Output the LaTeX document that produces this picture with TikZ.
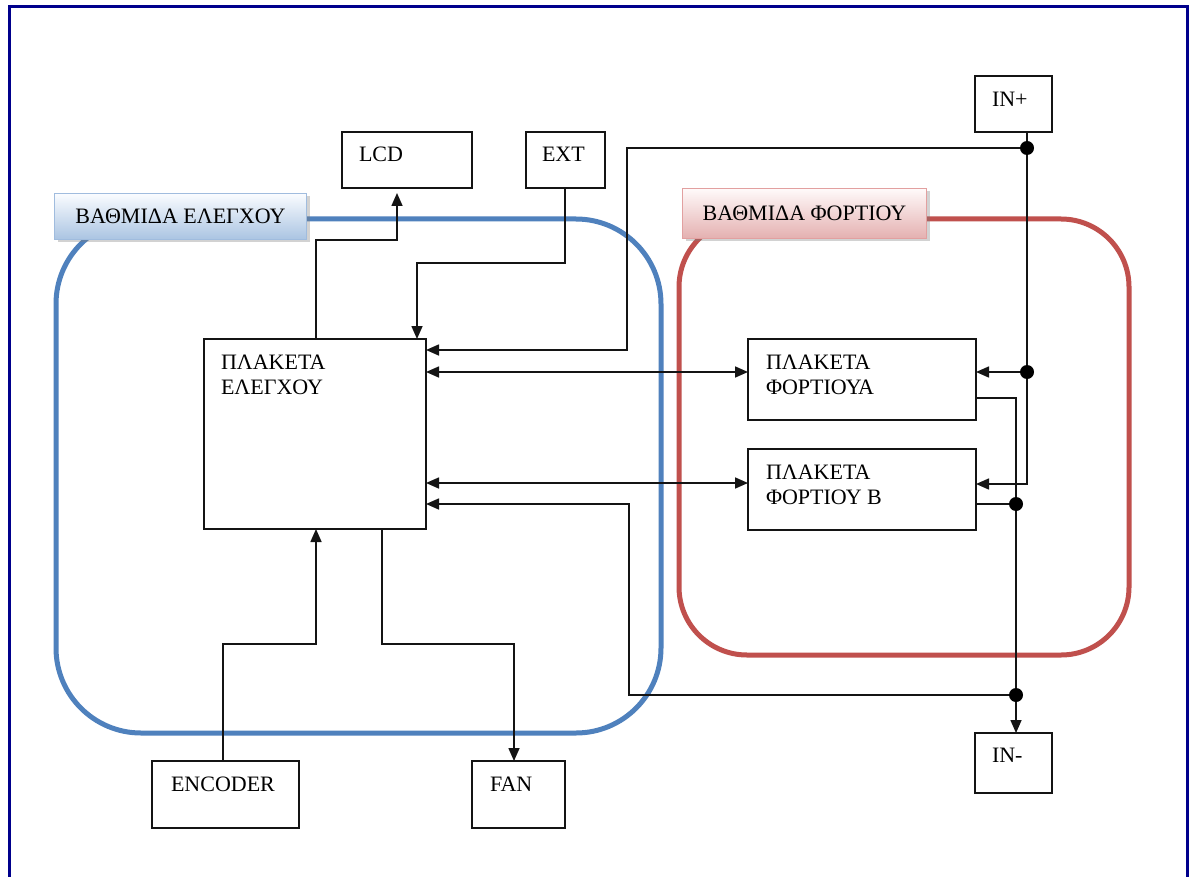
\documentclass[tikz,border=0pt]{standalone}
\usepackage{fontspec}
\setmainfont{Liberation Serif}
\usetikzlibrary{arrows.meta,calc,shadows}
\definecolor{framec}{RGB}{0,0,140}
\definecolor{blueline}{RGB}{79,129,189}
\definecolor{redline}{RGB}{192,80,77}
\definecolor{bluetop}{RGB}{250,252,255}
\definecolor{bluebot}{RGB}{170,196,226}
\definecolor{blueedge}{RGB}{160,188,222}
\definecolor{redtop}{RGB}{255,250,250}
\definecolor{redbot}{RGB}{228,176,176}
\definecolor{rededge}{RGB}{226,160,160}
\definecolor{ink}{RGB}{20,20,20}
\begin{document}
\begin{tikzpicture}[x=1pt,y=-1pt,
  box/.style={draw=ink, line width=1.6pt, inner sep=0pt, outer sep=0pt, anchor=north west},
  txt/.style={font=\fontsize{22}{25}\selectfont, inner sep=0pt, outer sep=0pt, align=left},
  wire/.style={draw=ink, line width=1.6pt},
  arr/.style={wire, -{Triangle[length=13pt,width=11pt]}},
  darr/.style={wire, {Triangle[length=13pt,width=11pt]}-{Triangle[length=13pt,width=11pt]}},
  jdot/.style={circle, fill=black, inner sep=0pt, minimum size=14pt},
  group/.style={line width=5pt},
  bluelabel/.style={draw=blueedge, line width=1pt, top color=bluetop, bottom color=bluebot,
    inner sep=0pt, anchor=north west, font=\fontsize{22}{25}\selectfont,
    drop shadow={shadow xshift=3pt, shadow yshift=-3pt, opacity=0.35}},
  redlabel/.style={draw=rededge, line width=1pt, top color=redtop, bottom color=redbot,
    inner sep=0pt, anchor=north west, font=\fontsize{22}{25}\selectfont,
    drop shadow={shadow xshift=3pt, shadow yshift=-3pt, opacity=0.35}}
]
\clip (0,0) rectangle (1190,877);
\useasboundingbox (0,0) rectangle (1190,877);
\fill[white] (0,0) rectangle (1190,877);
% outer frame
\draw[framec, line width=3pt] (9,6.5) rectangle (1187,900);

% group outlines
\draw[blueline, group, rounded corners=85pt] (56,219) rectangle (661,733);
\draw[redline, group, rounded corners=68pt] (679,219) rectangle (1129,655);

% group labels
\node[bluelabel, minimum width=252pt, minimum height=46pt] (lbA) at (54,193) {ΒΑΘΜΙΔΑ ΕΛΕΓΧΟΥ};
\node[redlabel, minimum width=244pt, minimum height=50pt] (lbB) at (682,188) {ΒΑΘΜΙΔΑ ΦΟΡΤΙΟΥ};

% boxes
\node[box, minimum width=130pt, minimum height=56pt] (lcd) at (342,132) {};
\node[box, minimum width=79pt, minimum height=56pt] (ext) at (526,132) {};
\node[box, minimum width=77pt, minimum height=56pt] (inp) at (975,76) {};
\node[box, minimum width=222pt, minimum height=190pt] (pe) at (204,339) {};
\node[box, minimum width=228pt, minimum height=81pt] (fa) at (748,339) {};
\node[box, minimum width=228pt, minimum height=81pt] (fb) at (748,449) {};
\node[box, minimum width=147pt, minimum height=67pt] (enc) at (152,761) {};
\node[box, minimum width=93pt, minimum height=67pt] (fan) at (472,761) {};
\node[box, minimum width=77pt, minimum height=60pt] (inm) at (975,733) {};

% texts
\node[txt, anchor=base west] (lcdT) at (359,162) {LCD};
\node[txt, anchor=base west] (extT) at (542,162) {EXT};
\node[txt, anchor=base west] (inpT) at (992,107) {IN+};
\node[txt, anchor=base west] (encT) at (171,791) {ENCODER};
\node[txt, anchor=base west] (fanT) at (490,791) {FAN};
\node[txt, anchor=base west] (inmT) at (992,762) {IN-};
\node[txt, anchor=base west] (peT1) at (221,369) {ΠΛΑΚΕΤΑ};
\node[txt, anchor=base west] (peT2) at (221,394) {ΕΛΕΓΧΟΥ};
\node[txt, anchor=base west] (faT1) at (766,369) {ΠΛΑΚΕΤΑ};
\node[txt, anchor=base west] (faT2) at (766,394) {ΦΟΡΤΙΟΥΑ};
\node[txt, anchor=base west] (fbT1) at (766,479) {ΠΛΑΚΕΤΑ};
\node[txt, anchor=base west] (fbT2) at (766,504) {ΦΟΡΤΙΟΥ Β};

% junctions
\coordinate (jp1) at (1027,148);
\coordinate (jp2) at (1027,372);
\coordinate (jn1) at (1016,504);
\coordinate (jn2) at (1016,695);

% LCD
\draw[arr, shorten >=5pt] ([xshift=112pt]pe.north west) -- ++(0,-99) -| ([xshift=55pt]lcd.south west);
% EXT
\draw[arr] ([xshift=39pt]ext.south west) -- ++(0,75) -| ([xshift=213pt]pe.north west);
% IN+
\draw[arr] ([xshift=52pt]inp.south west) -- (jp1) -- (jp2) |- ([yshift=-35pt]fb.north east);
\draw[arr] (jp1) -- (627,148) |- ([yshift=-11pt]pe.north east);
\draw[arr] (jp2) -- (fa.east |- jp2);
% bidirectional
\draw[darr] ([yshift=-33pt]pe.north east) -- ([yshift=-33pt]fa.north west);
\draw[darr] ([yshift=-144pt]pe.north east) -- ([yshift=-34pt]fb.north west);
% IN-
\draw[wire] ([yshift=-59pt]fa.north east) -| (jn1);
\draw[wire] ([yshift=-55pt]fb.north east) -- (jn1);
\draw[arr] (jn1) -- (jn2) -- (jn2 |- inm.north);
\draw[arr] (jn2) -- (629,695) |- ([yshift=-165pt]pe.north east);
% ENCODER
\draw[arr] ([xshift=71pt]enc.north west) -- ++(0,-117) -| ([xshift=112pt]pe.south west);
% FAN
\draw[arr] ([xshift=178pt]pe.south west) -- ++(0,115) -| ([xshift=42pt]fan.north west);

\node[jdot] (d1) at (jp1) {};
\node[jdot] (d2) at (jp2) {};
\node[jdot] (d3) at (jn1) {};
\node[jdot] (d4) at (jn2) {};
\end{tikzpicture}
\end{document}
